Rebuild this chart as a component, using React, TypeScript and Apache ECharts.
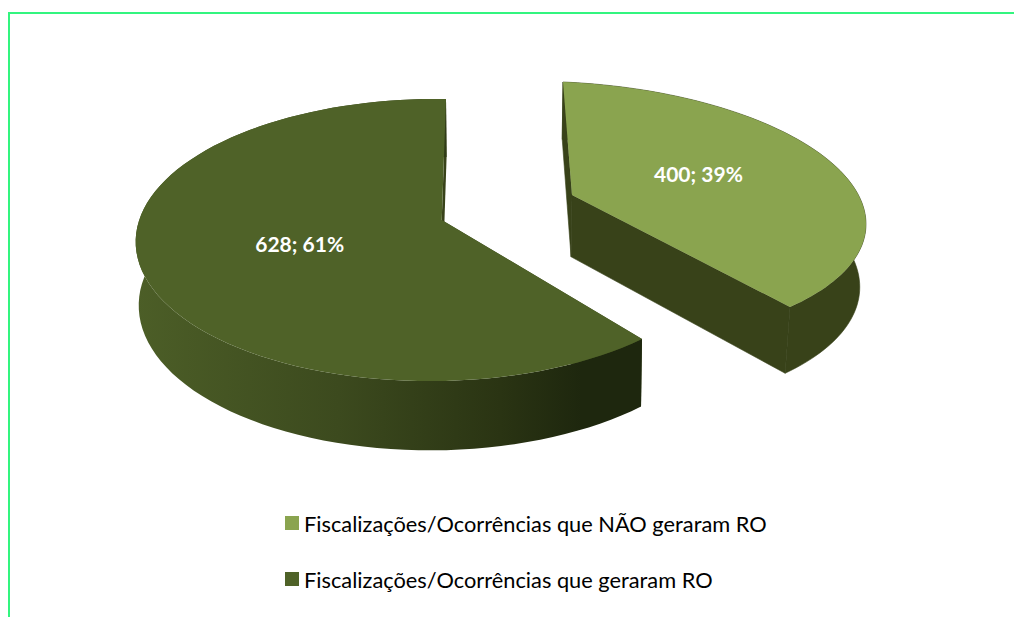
import React, { useEffect, useRef } from "react";
import * as echarts from "echarts";

const categories = ["Fiscalizações/Ocorrências que NÃO geraram RO", "Fiscalizações/Ocorrências que geraram RO"];
const values = [400, 628];
const topColors = ["#8AA44F", "#4F6228"];

const total = values.reduce((a, b) => a + b, 0);
const endTheta = (values[0] / total) * Math.PI * 2;

// Cameras: each maps the unit circle of one exploded slice onto the page (homographies calibrated on four references)
function solve(A: number[][], b: number[]) {
  const n = b.length;
  const M = A.map((r, i) => [...r, b[i]]);
  for (let c = 0; c < n; c++) {
    let p = c;
    for (let r = c + 1; r < n; r++) if (Math.abs(M[r][c]) > Math.abs(M[p][c])) p = r;
    [M[c], M[p]] = [M[p], M[c]];
    for (let r = 0; r < n; r++) {
      if (r === c) continue;
      const f = M[r][c] / M[c][c];
      for (let k = c; k < n + 1; k++) M[r][k] -= f * M[c][k];
    }
  }
  return M.map((r, i) => r[n] / r[i]);
}
function camera(src: number[][], dst: number[][]) {
  const A: number[][] = [];
  const B: number[] = [];
  src.forEach(([u, v], i) => {
    const [x, y] = dst[i];
    A.push([u, v, 1, 0, 0, 0, -u * x, -v * x]);
    B.push(x);
    A.push([0, 0, 0, u, v, 1, -u * y, -v * y]);
    B.push(y);
  });
  const H = solve(A, B);
  return (u: number, v: number): number[] => {
    const w = H[6] * u + H[7] * v + 1;
    return [(H[0] * u + H[1] * v + H[2]) / w, (H[3] * u + H[4] * v + H[5]) / w];
  };
}
const endPoint = [Math.sin(endTheta), -Math.cos(endTheta)];
const cameras = [
  camera(
    [[0, -1], [1, 0], endPoint, [0, 0]],
    [[563, 82], [862, 203], [790, 307], [572, 195]]
  ),
  camera(
    [[0, -1], [0, 1], [-1, 0], endPoint],
    [[446, 99], [441, 381], [137.5, 226], [642, 339]]
  ),
];
const labelNudges = [[-8, -4], [0, -7]];
const apexNudges = [[0, 0], [-2, -6]];
const dropShift = [0.018, 0.008];
// the lower face of the pie, seen below the upper one
function drop(p: number[], index: number): number[] {
  return [p[0] + (520 - p[0]) * dropShift[index], p[1] + 62 + (p[1] - 200) * 0.04];
}

function renderSlice(index: number) {
  return (_params: any, api: any) => {
    const value = api.value(0);
    const before = values.slice(0, index).reduce((a, b) => a + b, 0);
    const t0 = (before / total) * Math.PI * 2;
    const t1 = ((before + value) / total) * Math.PI * 2;
    const mid = (t0 + t1) / 2;
    const project = cameras[index];
    const pt = (t: number, r = 1) => project(Math.sin(t) * r, -Math.cos(t) * r);
    const steps = 90;
    const arc: number[][] = [];
    for (let i = 0; i <= steps; i++) arc.push(pt(t0 + ((t1 - t0) * i) / steps));
    const rawApex = pt(0, 0);
    const apex = [rawApex[0] + apexNudges[index][0], rawApex[1] + apexNudges[index][1]];
    const wallPts = [...arc, ...arc.map((p) => drop(p, index)).reverse()];
    const isRight = index === 0;
    const wallStroke = isRight ? "#384219" : "transparent";
    const wallFill = isRight
      ? "#384219"
      : new echarts.graphic.LinearGradient(0, 0, 1, 0, [
          { offset: 0, color: "#4C5E27" },
          { offset: 0.4, color: "#3C4A1E" },
          { offset: 0.72, color: "#2A3413" },
          { offset: 0.88, color: "#1E270E" },
          { offset: 1, color: "#1E270E" },
        ]);
    const label = pt(mid, 0.5);
    const face = (a: number[]) => [apex, a, drop(a, index), drop(apex, index)];
    return {
      type: "group",
      silent: true,
      children: [
        { type: "polygon", shape: { points: face(arc[0]) }, style: { fill: isRight ? "#384219" : "#3A471C", stroke: wallStroke, lineWidth: 0.6 } },
        { type: "polygon", shape: { points: face(arc[steps]) }, style: { fill: "#384219", stroke: wallStroke, lineWidth: 0.6 } },
        { type: "polygon", shape: { points: wallPts }, style: { fill: wallFill, stroke: wallStroke, lineWidth: 0.6 } },
        { type: "polygon", shape: { points: [apex, ...arc] }, style: { fill: topColors[index] } },
        {
          type: "text",
          style: {
            text: `${value}; ${Math.round((value / total) * 100)}%`,
            x: label[0] + labelNudges[index][0],
            y: label[1] + labelNudges[index][1],
            fill: "#FFFFFF",
            font: "bold 21px Lato",
            textAlign: "center",
            textVerticalAlign: "middle",
          },
        },
      ],
    };
  };
}

export default function App() {
  const ref = useRef<HTMLDivElement>(null);
  useEffect(() => {
    document.body.style.margin = "0";
    document.body.style.background = "#FFFFFF";
    const chart = echarts.init(ref.current!, undefined, { renderer: "svg" });
    chart.setOption({
      animation: false,
      backgroundColor: "#FFFFFF",
      legend: {
        data: categories,
        orient: "vertical",
        left: 285,
        top: 512,
        padding: 0,
        icon: "rect",
        itemWidth: 14,
        itemHeight: 14,
        itemGap: 34,
        selectedMode: false,
        textStyle: { fontFamily: "Lato", fontSize: 21.8, color: "#000000" },
      },
      graphic: [
        { type: "line", shape: { x1: 9, y1: 13, x2: 1014, y2: 13 }, style: { stroke: "#33F57F", lineWidth: 2 } },
        { type: "line", shape: { x1: 9, y1: 12, x2: 9, y2: 617 }, style: { stroke: "#33F57F", lineWidth: 2 } },
      ],
      series: categories.map((name, i) => ({
        type: "custom",
        name,
        coordinateSystem: "none",
        itemStyle: { color: topColors[i] },
        data: [[values[i]]],
        renderItem: renderSlice(i),
      })),
    });
    return () => chart.dispose();
  }, []);
  return <div ref={ref} style={{ width: 1014, height: 617, overflow: "hidden" }} />;
}
